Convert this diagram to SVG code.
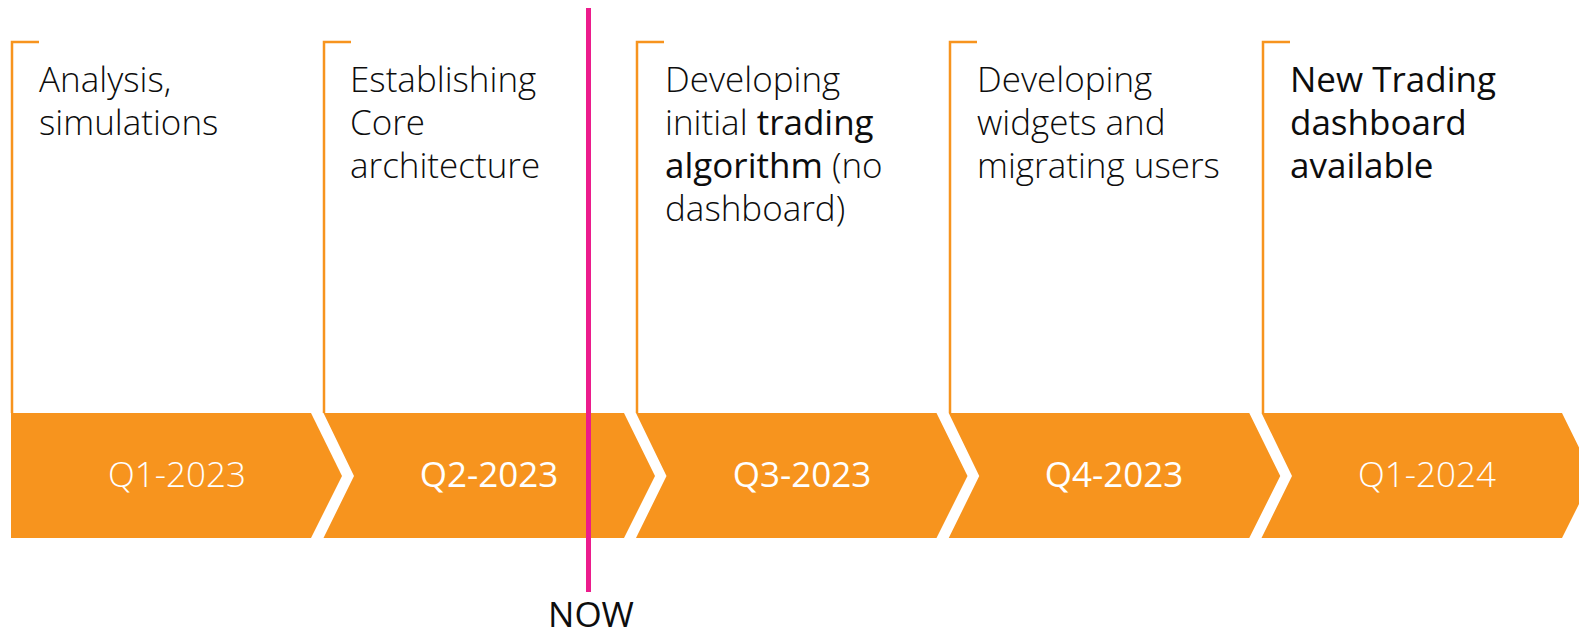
<svg xmlns="http://www.w3.org/2000/svg" width="1579" height="635" viewBox="0 0 1579 635">
<style>
.bar{fill:#F7941E}
.br{fill:none;stroke:#F7941E;stroke-width:2.5}
.t{font-family:"Open Sans","Liberation Sans",sans-serif;font-size:35px;font-weight:300;fill:#0D0D0D}
.b{font-weight:500}
.q{font-family:"Open Sans","Liberation Sans",sans-serif;font-size:35px;font-weight:300;fill:#FFFFFF;text-anchor:middle}
.qb{font-weight:400}
</style>
<rect width="1579" height="635" fill="#FFFFFF"/>
<g id="node-q1-2023">
<path class="br" d="M39,42 H12 V413"/>
<path class="bar" d="M11,413 H311 L342,476 L311,538 H11 Z"/>
<text class="t" x="39"><tspan x="39" y="92">Analysis,</tspan><tspan x="39" y="135">simulations</tspan></text>
<text class="q" x="177" y="487">Q1-2023</text>
</g>
<g id="node-q2-2023">
<path class="br" d="M351,42 H324 V413"/>
<path class="bar" d="M323.5,413 H624 L655,476 L624,538 H323.5 L354,476 Z"/>
<text class="t"><tspan x="350" y="92">Establishing</tspan><tspan x="350" y="135">Core</tspan><tspan x="350" y="178">architecture</tspan></text>
<text class="q qb" x="489" y="487">Q2-2023</text>
</g>
<g id="node-q3-2023">
<path class="br" d="M664,42 H637 V413"/>
<path class="bar" d="M636,413 H936.5 L967.5,476 L936.5,538 H636 L666.5,476 Z"/>
<text class="t"><tspan x="665" y="92">Developing</tspan><tspan x="665" y="135">initial <tspan class="b">trading</tspan></tspan><tspan x="665" y="178"><tspan class="b">algorithm</tspan> (no</tspan><tspan x="665" y="221">dashboard)</tspan></text>
<text class="q qb" x="802" y="487">Q3-2023</text>
</g>
<g id="node-q4-2023">
<path class="br" d="M977,42 H950 V413"/>
<path class="bar" d="M948.75,413 H1249.25 L1280.25,476 L1249.25,538 H948.75 L979.25,476 Z"/>
<text class="t"><tspan x="977" y="92">Developing</tspan><tspan x="977" y="135">widgets and</tspan><tspan x="977" y="178">migrating users</tspan></text>
<text class="q qb" x="1114" y="487">Q4-2023</text>
</g>
<g id="node-q1-2024">
<path class="br" d="M1290,42 H1263 V413"/>
<path class="bar" d="M1261.5,413 H1562 L1593,476 L1562,538 H1261.5 L1292,476 Z"/>
<text class="t b"><tspan x="1290" y="92">New Trading</tspan><tspan x="1290" y="135">dashboard</tspan><tspan x="1290" y="178">available</tspan></text>
<text class="q" x="1427" y="487">Q1-2024</text>
</g>
<g id="connectors">
<line x1="588.5" y1="8" x2="588.5" y2="592" stroke="#EC1C8C" stroke-width="5"/>
</g>
<g id="node-now">
<text class="t" x="591" y="627" text-anchor="middle" style="font-weight:400">NOW</text>
</g>
</svg>
